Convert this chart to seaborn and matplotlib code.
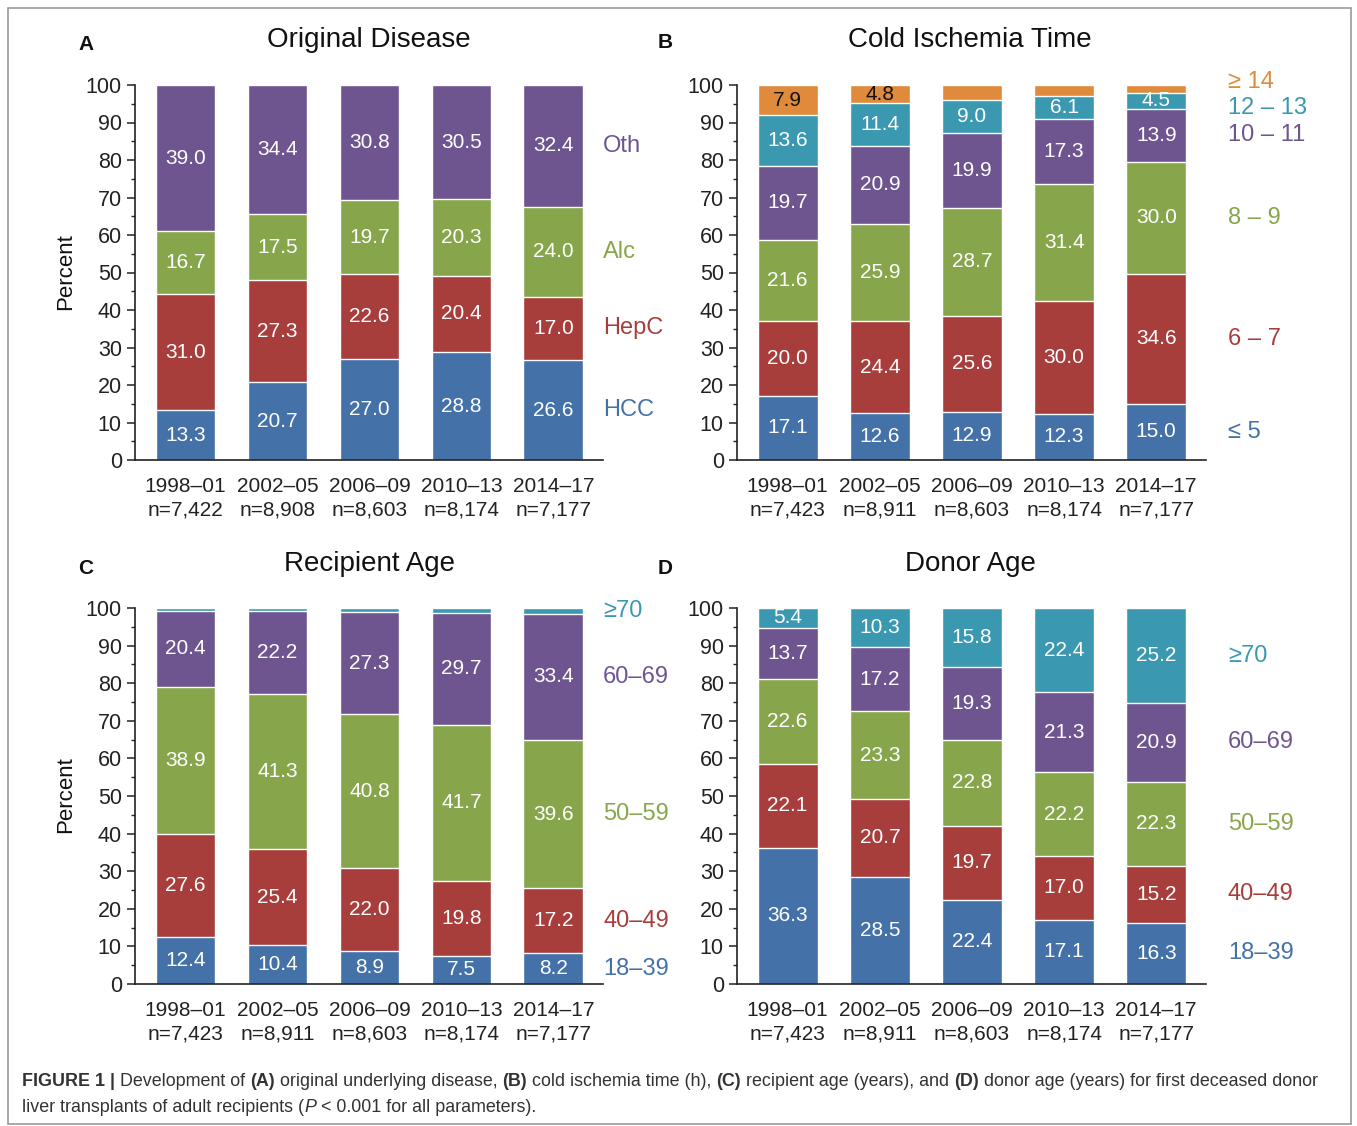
import numpy as np
import matplotlib
matplotlib.use('Agg')
import matplotlib.pyplot as plt
import matplotlib.patches as mpatches
from matplotlib.transforms import IdentityTransform
from matplotlib import font_manager
import seaborn as sns

# periods and sample sizes
periods = ['1998–01', '2002–05', '2006–09', '2010–13', '2014–17']
n_disease = ['7,422', '8,908', '8,603', '8,174', '7,177']
n_other = ['7,423', '8,911', '8,603', '8,174', '7,177']

# A - original disease (%)
hcc = [13.3, 20.7, 27.0, 28.8, 26.6]
hepc = [31.0, 27.3, 22.6, 20.4, 17.0]
alc = [16.7, 17.5, 19.7, 20.3, 24.0]
oth = [39.0, 34.4, 30.8, 30.5, 32.4]

# B - cold ischemia time (h)
cit_le5 = [17.1, 12.6, 12.9, 12.3, 15.0]
cit_6_7 = [20.0, 24.4, 25.6, 30.0, 34.6]
cit_8_9 = [21.6, 25.9, 28.7, 31.4, 30.0]
cit_10_11 = [19.7, 20.9, 19.9, 17.3, 13.9]
cit_12_13 = [13.6, 11.4, 9.0, 6.1, 4.5]
cit_ge14 = [7.9, 4.8, 3.9, 2.9, 2.0]

# C - recipient age (years)
rec_18_39 = [12.4, 10.4, 8.9, 7.5, 8.2]
rec_40_49 = [27.6, 25.4, 22.0, 19.8, 17.2]
rec_50_59 = [38.9, 41.3, 40.8, 41.7, 39.6]
rec_60_69 = [20.4, 22.2, 27.3, 29.7, 33.4]
rec_ge70 = [0.7, 0.7, 1.0, 1.3, 1.6]

# D - donor age (years)
don_18_39 = [36.3, 28.5, 22.4, 17.1, 16.3]
don_40_49 = [22.1, 20.7, 19.7, 17.0, 15.2]
don_50_59 = [22.6, 23.3, 22.8, 22.2, 22.3]
don_60_69 = [13.7, 17.2, 19.3, 21.3, 20.9]
don_ge70 = [5.4, 10.3, 15.8, 22.4, 25.2]

BLUE = '#4371a8'
RED = '#a73e3c'
GREEN = '#87a64c'
PURPLE = '#6e5590'
TEAL = '#3b98b1'
ORANGE = '#e08a3b'

sns.set_theme(style='ticks')
plt.rcParams['font.family'] = ['Liberation Sans', 'DejaVu Sans']

W, H = 1357, 1126
fig = plt.figure(figsize=(W / 100, H / 100), dpi=100)


def px_axes(left, right, top, bottom):
    return fig.add_axes([left / W, 1 - bottom / H, (right - left) / W, (bottom - top) / H])


def stacked_panel(ax, series, labels, colors, ns, label_dx):
    vals = np.array(series)
    cum = np.cumsum(vals, axis=0)
    xt = [f'{p}\nn={n}' for p, n in zip(periods, ns)]
    # draw tallest first so each lower segment sits on top
    for k in range(len(series) - 1, -1, -1):
        sns.barplot(x=xt, y=cum[k], color=colors[k], saturation=1, width=0.65,
                    edgecolor='white', linewidth=1.0, errorbar=None, ax=ax)
    for i in range(vals.shape[1]):
        for k in range(vals.shape[0]):
            v = vals[k, i]
            if v < 4:
                continue
            mid = cum[k, i] - v / 2
            ax.text(i, mid, f'{v:.1f}', ha='center', va='center', fontsize=15,
                    color='#111111' if colors[k] == ORANGE else 'white')

    # category labels beside the last bar
    ys = list(cum[:, -1] - vals[:, -1] / 2)
    gap = 6.8
    for k in range(len(ys) - 1, 0, -1):
        d = ys[k] - ys[k - 1]
        if d < gap:
            ys[k] += (gap - d) / 2
            ys[k - 1] -= (gap - d) / 2
    for k, lab in enumerate(labels):
        ax.annotate(lab, xy=(1, ys[k]), xycoords=('axes fraction', 'data'),
                    xytext=(label_dx, 0), textcoords='offset pixels',
                    ha='left', va='center', fontsize=17, color=colors[k],
                    annotation_clip=False)

    ax.set_xlim(-0.55, 4.54)
    ax.set_ylim(0, 100)
    ax.set_yticks(range(0, 101, 10))
    ax.set_yticks(range(5, 100, 10), minor=True)
    ax.set_xticks(range(5))
    ax.set_xticklabels(xt, linespacing=1.3)
    ax.tick_params(axis='x', length=0, labelsize=15, pad=12, colors='#222222')
    ax.tick_params(axis='y', which='major', length=6, width=1.1, labelsize=15.5,
                   direction='out', colors='#222222')
    ax.tick_params(axis='y', which='minor', length=3, width=1.0, direction='out')
    ax.set_xlabel('')
    ax.set_ylabel('')
    for side in ['top', 'right']:
        ax.spines[side].set_visible(False)
    for side in ['left', 'bottom']:
        ax.spines[side].set_linewidth(1.2)
        ax.spines[side].set_color('#222222')


axA = px_axes(135, 603, 85, 460)
axB = px_axes(737, 1206, 85, 460)
axC = px_axes(135, 603, 608, 984)
axD = px_axes(737, 1206, 608, 984)

stacked_panel(axA, [hcc, hepc, alc, oth], ['HCC', 'HepC', 'Alc', 'Oth'],
              [BLUE, RED, GREEN, PURPLE], n_disease, 0)
stacked_panel(axB, [cit_le5, cit_6_7, cit_8_9, cit_10_11, cit_12_13, cit_ge14],
              ['≤ 5', '6 – 7', '8 – 9', '10 – 11', '12 – 13', '≥ 14'],
              [BLUE, RED, GREEN, PURPLE, TEAL, ORANGE], n_other, 22)
stacked_panel(axC, [rec_18_39, rec_40_49, rec_50_59, rec_60_69, rec_ge70],
              ['18–39', '40–49', '50–59', '60–69', '≥70'],
              [BLUE, RED, GREEN, PURPLE, TEAL], n_other, 0)
stacked_panel(axD, [don_18_39, don_40_49, don_50_59, don_60_69, don_ge70],
              ['18–39', '40–49', '50–59', '60–69', '≥70'],
              [BLUE, RED, GREEN, PURPLE, TEAL], n_other, 22)

# titles, panel letters, y labels (pixel positions)
pix = IdentityTransform()
for (x, y, s) in [(369, 40, 'Original Disease'), (970, 40, 'Cold Ischemia Time'),
                  (370, 564, 'Recipient Age'), (970, 564, 'Donor Age')]:
    fig.text(x, H - y, s, transform=pix, ha='center', va='center', fontsize=20, color='#111111')
for (x, y, s) in [(86, 45, 'A'), (665, 42, 'B'), (86, 568, 'C'), (665, 568, 'D')]:
    fig.text(x, H - y, s, transform=pix, ha='center', va='center', fontsize=15,
             fontweight='bold', color='#111111')
for y in [272, 795]:
    fig.text(66, H - y, 'Percent', transform=pix, ha='center', va='center',
             rotation=90, fontsize=16, color='#111111')

# caption with mixed weights
names = {f.name for f in font_manager.fontManager.ttflist}
cap_font = 'Liberation Sans Narrow' if 'Liberation Sans Narrow' in names else 'Liberation Sans'
line1 = [('FIGURE 1 |', 'bold', 'normal'), (' Development of ', 'normal', 'normal'),
         ('(A)', 'bold', 'normal'), (' original underlying disease, ', 'normal', 'normal'),
         ('(B)', 'bold', 'normal'), (' cold ischemia time (h), ', 'normal', 'normal'),
         ('(C)', 'bold', 'normal'), (' recipient age (years), and ', 'normal', 'normal'),
         ('(D)', 'bold', 'normal'),
         (' donor age (years) for first deceased donor', 'normal', 'normal')]
line2 = [('liver transplants of adult recipients (', 'normal', 'normal'),
         ('P', 'normal', 'italic'), (' < 0.001 for all parameters).', 'normal', 'normal')]

renderer = fig.canvas.get_renderer()


def rich_line(x, y, parts, size):
    objs = []
    cx = x
    for txt, wt, st in parts:
        t = fig.text(cx, H - y, txt, transform=pix, ha='left', va='center', fontsize=size,
                     fontweight=wt, fontstyle=st, family=cap_font, color='#333333')
        cx += t.get_window_extent(renderer).width
        objs.append(t)
    return objs, cx - x


objs, width = rich_line(22, 1082, line1, 12)
for t in objs:
    t.remove()
size = 12 * 1296 / width
rich_line(22, 1082, line1, size)
rich_line(22, 1107, line2, size)

# outer frame
fig.patches.append(mpatches.Rectangle((8, 2), W - 14, H - 10, transform=pix, fill=False,
                                      edgecolor='#999999', linewidth=1.2))

fig.savefig('out.png', dpi=100)
